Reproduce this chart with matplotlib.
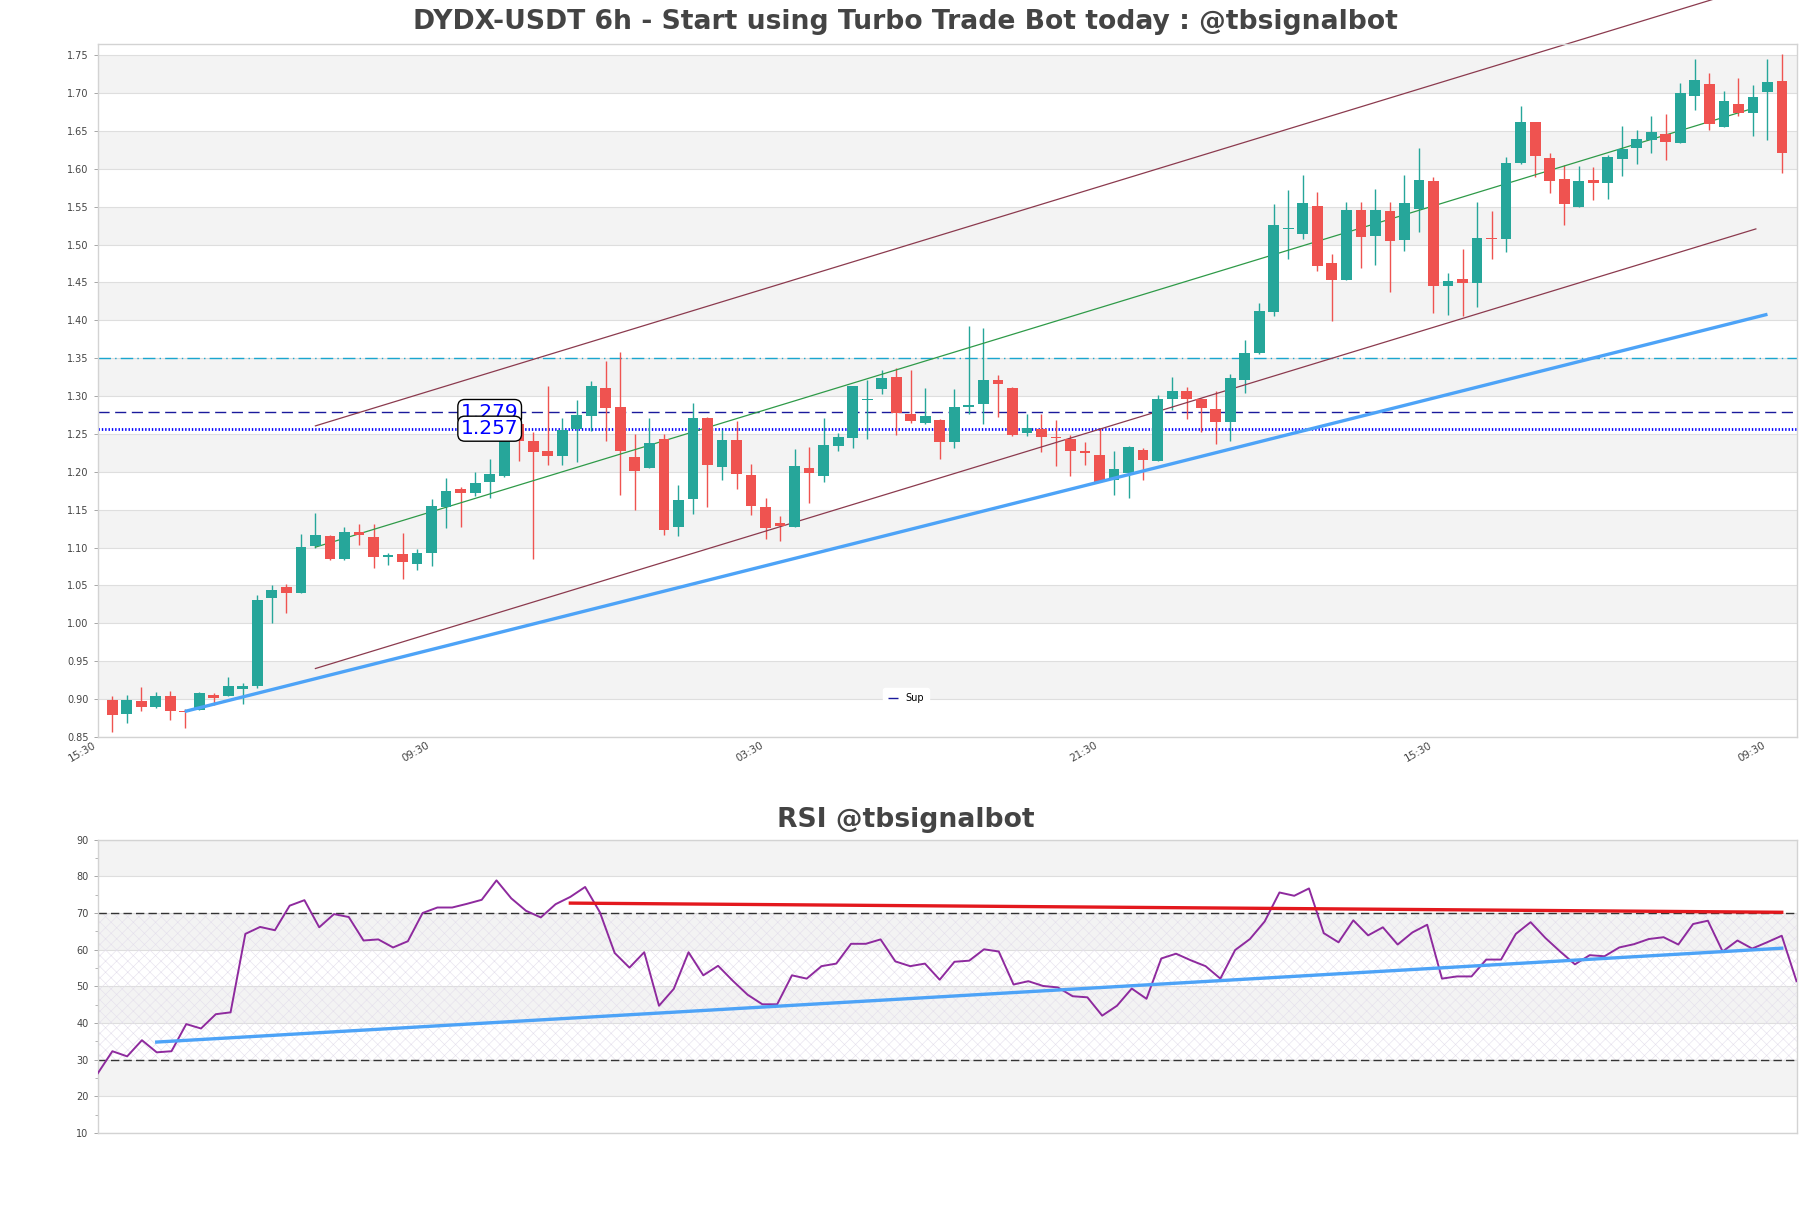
"""DYDX-USDT 6h candles with channel lines and RSI panel."""

import matplotlib

matplotlib.use("Agg")
import matplotlib.pyplot as plt
import numpy as np

# ---- candle data (6h bars) ----
opens = [
    0.8985, 0.881, 0.898, 0.8896, 0.904, 0.884, 0.8855, 0.9055, 0.904, 0.914,
    0.917, 1.033, 1.0486, 1.040, 1.1018, 1.1154, 1.0846, 1.1207, 1.114, 1.0876,
    1.0917, 1.0787, 1.0923, 1.1538, 1.1774, 1.1727, 1.187, 1.195, 1.2637, 1.241,
    1.2276, 1.2212, 1.256, 1.2743, 1.311, 1.285, 1.220, 1.2046, 1.243, 1.1266,
    1.1644, 1.2708, 1.2058, 1.2424, 1.1963, 1.1538, 1.132, 1.1266, 1.2046, 1.194,
    1.2342, 1.2448, 1.2944, 1.3098, 1.3252, 1.2767, 1.2649, 1.269, 1.240, 1.2855,
    1.2892, 1.3216, 1.311, 1.2519, 1.2566, 1.2466, 1.243, 1.2265, 1.2223, 1.1886,
    1.1987, 1.2294, 1.2147, 1.2962, 1.3062, 1.2962, 1.2826, 1.2655, 1.3216, 1.3565,
    1.4109, 1.5208, 1.5137, 1.551, 1.4753, 1.4528, 1.5462, 1.5119, 1.5438, 1.5064,
    1.547, 1.5838, 1.4453, 1.454, 1.4497, 1.5083, 1.5077, 1.6075, 1.6612, 1.6138,
    1.5863, 1.5495, 1.585, 1.5819, 1.6125, 1.6269, 1.6387, 1.6462, 1.6337, 1.6955,
    1.7124, 1.6556, 1.6855, 1.6743, 1.701, 1.7161,
]
highs = [
    0.904, 0.906, 0.9156, 0.910, 0.911, 0.887, 0.909, 0.908, 0.9286, 0.921,
    1.038, 1.050, 1.0515, 1.1177, 1.146, 1.116, 1.127, 1.1307, 1.1307, 1.0923,
    1.1195, 1.0988, 1.1644, 1.192, 1.180, 1.200, 1.2176, 1.259, 1.2655, 1.252,
    1.3128, 1.2708, 1.2944, 1.3198, 1.3464, 1.358, 1.250, 1.2708, 1.250, 1.1833,
    1.2903, 1.272, 1.2548, 1.2667, 1.2105, 1.1656, 1.142, 1.2306, 1.2324, 1.2708,
    1.2519, 1.3128, 1.3216, 1.3346, 1.3376, 1.3346, 1.311, 1.270, 1.3092, 1.392,
    1.3896, 1.3275, 1.3122, 1.2767, 1.2767, 1.2678, 1.2483, 1.240, 1.2578, 1.227,
    1.2342, 1.2318, 1.301, 1.3252, 1.3122, 1.297, 1.3062, 1.3287, 1.3742, 1.4233,
    1.5533, 1.5722, 1.5917, 1.5692, 1.4871, 1.5562, 1.5568, 1.574, 1.5568, 1.592,
    1.6275, 1.5888, 1.4628, 1.494, 1.5564, 1.5439, 1.615, 1.683, 1.662, 1.6213,
    1.605, 1.6044, 1.6019, 1.6188, 1.6562, 1.6512, 1.670, 1.673, 1.7136, 1.7454,
    1.7267, 1.703, 1.7199, 1.7105, 1.7448, 1.751,
]
lows = [
    0.857, 0.869, 0.884, 0.888, 0.872, 0.862, 0.885, 0.8925, 0.904, 0.893,
    0.915, 1.000, 1.0137, 1.040, 1.100, 1.084, 1.0834, 1.103, 1.0734, 1.0775,
    1.058, 1.0699, 1.0758, 1.126, 1.1266, 1.168, 1.166, 1.193, 1.2146, 1.085,
    1.2093, 1.2093, 1.213, 1.2536, 1.2412, 1.169, 1.1496, 1.2046, 1.117, 1.1148,
    1.1443, 1.153, 1.1886, 1.1768, 1.1425, 1.1118, 1.1089, 1.1266, 1.159, 1.187,
    1.228, 1.2312, 1.243, 1.3033, 1.2483, 1.265, 1.2637, 1.2176, 1.2312, 1.2767,
    1.2637, 1.2726, 1.2472, 1.2472, 1.2265, 1.2076, 1.1946, 1.2087, 1.186, 1.1691,
    1.165, 1.1886, 1.2147, 1.2814, 1.2696, 1.253, 1.2371, 1.2412, 1.3039, 1.3553,
    1.4055, 1.4806, 1.5072, 1.4658, 1.3996, 1.4528, 1.4694, 1.4735, 1.4368, 1.492,
    1.517, 1.4097, 1.4066, 1.4054, 1.4178, 1.4815, 1.4908, 1.6063, 1.5888, 1.5676,
    1.5264, 1.5495, 1.5595, 1.5607, 1.5907, 1.6063, 1.6207, 1.6113, 1.6337, 1.678,
    1.6512, 1.6556, 1.670, 1.6437, 1.6387, 1.595,
]
closes = [
    0.8784, 0.899, 0.890, 0.904, 0.884, 0.883, 0.9085, 0.902, 0.917, 0.917,
    1.031, 1.044, 1.040, 1.1006, 1.1165, 1.0846, 1.120, 1.117, 1.0876, 1.090,
    1.0805, 1.0923, 1.155, 1.175, 1.1727, 1.185, 1.1975, 1.252, 1.241, 1.2259,
    1.2212, 1.2554, 1.2755, 1.314, 1.2838, 1.227, 1.2005, 1.2383, 1.1236, 1.163,
    1.2708, 1.2087, 1.2424, 1.1975, 1.1544, 1.1254, 1.128, 1.2082, 1.1987, 1.2353,
    1.246, 1.3128, 1.2955, 1.324, 1.2773, 1.2667, 1.2738, 1.240, 1.2862, 1.2885,
    1.321, 1.3157, 1.249, 1.2578, 1.2454, 1.2448, 1.227, 1.2255, 1.1869, 1.2034,
    1.233, 1.2152, 1.2956, 1.3068, 1.2956, 1.2838, 1.2655, 1.324, 1.357, 1.412,
    1.5255, 1.5215, 1.555, 1.4723, 1.4528, 1.5462, 1.5101, 1.5456, 1.5054, 1.5551,
    1.585, 1.4459, 1.4515, 1.4497, 1.5083, 1.5077, 1.6075, 1.6624, 1.6175, 1.5844,
    1.5533, 1.5844, 1.5813, 1.615, 1.6262, 1.640, 1.648, 1.635, 1.700, 1.7174,
    1.6587, 1.6899, 1.6743, 1.695, 1.7149, 1.6206,
]

rsi = [
    26.2, 32.3, 30.9, 35.3, 32.0, 32.3, 39.7, 38.5, 42.4, 42.9,
    64.3, 66.2, 65.3, 72.0, 73.5, 66.1, 69.7, 68.9, 62.5, 62.8,
    60.6, 62.3, 70.0, 71.5, 71.5, 72.5, 73.6, 78.9, 74.0, 70.6,
    68.8, 72.4, 74.4, 77.1, 70.2, 59.1, 55.1, 59.3, 44.7, 49.3,
    59.3, 53.0, 55.6, 51.5, 47.7, 45.1, 45.1, 53.0, 52.1, 55.5,
    56.2, 61.6, 61.6, 62.8, 56.8, 55.5, 56.2, 51.8, 56.7, 57.0,
    60.1, 59.5, 50.5, 51.4, 50.1, 49.7, 47.3, 47.0, 42.0, 44.7,
    49.4, 46.6, 57.6, 58.9, 57.1, 55.5, 52.1, 59.9, 62.9, 67.7,
    75.6, 74.7, 76.7, 64.5, 62.0, 68.0, 63.9, 66.1, 61.4, 64.7,
    66.8, 52.1, 52.7, 52.7, 57.3, 57.3, 64.3, 67.5, 63.2, 59.5,
    56.0, 58.5, 58.2, 60.6, 61.5, 62.9, 63.4, 61.4, 67.0, 67.9,
    59.5, 62.5, 60.3, 62.0, 63.8, 51.4,
]

# time labels every 23 bars, first one at bar -1
tick_bars = [-1, 22, 45, 68, 91, 114]
tick_labels = ["15:30", "09:30", "03:30", "21:30", "15:30", "09:30"]

# drawn lines: (bar, price) end points
upper_channel = [(14, 1.2607), (113.2, 1.841)]
mid_channel = [(14, 1.1006), (113.2, 1.681)]
lower_channel = [(14, 0.9404), (113.2, 1.5207)]
support_trend = [(5, 0.8837), (114, 1.408)]
level_resist = 1.35
level_sup = 1.279
level_sup2 = 1.257

rsi_support = [(4, 34.8), (114, 60.4)]
rsi_resist = [(32, 72.7), (114, 70.2)]

UP = "#26a69a"
DOWN = "#ef5350"
BAND = "#f3f3f3"
GRID = "#dedede"
TXT = "#444444"


def style_axis(ax):
    for s in ax.spines.values():
        s.set_color("#d3d3d3")
        s.set_linewidth(1.0)
    ax.tick_params(axis="y", labelsize=7, colors=TXT, length=3, width=0.6)
    ax.tick_params(axis="y", which="minor", length=2, width=0.5, colors="#999999")
    ax.tick_params(axis="y", which="major", color="#999999")


def main():
    plt.rcParams["font.family"] = "DejaVu Sans"
    plt.rcParams["hatch.linewidth"] = 0.4

    fig = plt.figure(figsize=(18.11, 12.08), dpi=100)
    ax = fig.add_axes([0.0539, 0.3899, 0.9381, 0.5738])
    ax_rsi = fig.add_axes([0.0539, 0.0621, 0.9381, 0.2428])

    o = np.array(opens)
    h = np.array(highs)
    l = np.array(lows)
    c = np.array(closes)
    x = np.arange(len(o))
    colors = np.where(c >= o, UP, DOWN)

    # background bands and grid
    ylo, yhi = 0.85, 1.765
    ticks = np.round(np.arange(0.85, 1.751, 0.05), 2)
    for t in ticks[1:-1:2]:
        ax.axhspan(t, t + 0.05, color=BAND, zorder=0, lw=0)
    for t in ticks:
        ax.axhline(t, color=GRID, lw=0.8, zorder=0.5)

    # candles
    ax.vlines(x, l, h, colors=colors, lw=1.0, zorder=2)
    body_lo = np.minimum(o, c)
    body_h = np.maximum(np.abs(c - o), 0.0015)
    ax.bar(x, body_h, bottom=body_lo, width=0.74, color=colors, lw=0, zorder=3)

    # channel and trend lines
    for pts, col, lw in [
        (upper_channel, "#8b3a4e", 0.9),
        (lower_channel, "#8b3a4e", 0.9),
        (mid_channel, "#2e9a48", 0.9),
    ]:
        xs, ys = zip(*pts)
        ax.plot(xs, ys, color=col, lw=lw, zorder=2.5, clip_on=False)
    xs, ys = zip(*support_trend)
    ax.plot(xs, ys, color="#4da3f7", lw=2.4, zorder=4, solid_capstyle="butt")

    ax.axhline(level_resist, color="#1aa6cf", lw=1.0, dashes=(9, 3, 1, 3), zorder=1.5)
    ax.axhline(level_sup, color="#1a1a9c", lw=1.0, dashes=(8, 4), zorder=1.5, label="Sup")
    ax.axhline(level_sup2, color="#0000ff", lw=2.0, dashes=(0.5, 0.7), zorder=1.5)

    box = dict(boxstyle="round,pad=0.15,rounding_size=0.35", fc="white", ec="black", lw=1.0)
    ax.text(26, level_sup, f"{level_sup:.3f}", color="blue", fontsize=14.5,
            ha="center", va="center", bbox=box, zorder=6)
    ax.text(26, level_sup2, f"{level_sup2:.3f}", color="blue", fontsize=14.5,
            ha="center", va="center", bbox=box, zorder=6)

    ax.set_xlim(-1, len(o))
    ax.set_ylim(ylo, yhi)
    ax.set_yticks(ticks)
    ax.set_yticklabels([f"{t:.2f}" for t in ticks])
    ax.set_xticks(tick_bars)
    ax.set_xticklabels(tick_labels, rotation=30, ha="right", fontsize=7.5, color=TXT)
    ax.tick_params(axis="x", length=0, pad=2)
    style_axis(ax)

    leg = ax.legend(loc="lower center", bbox_to_anchor=(0.476, 0.035), fontsize=7,
                    handlelength=1.0, frameon=True, framealpha=1.0, borderpad=0.5)
    leg.get_frame().set_edgecolor("white")
    leg.get_frame().set_facecolor("white")

    fig.text(0.5, 0.9818, "DYDX-USDT 6h - Start using Turbo Trade Bot today : @tbsignalbot",
             ha="center", va="center", fontsize=19.2, fontweight="bold", color=TXT)

    # ---- RSI panel ----
    r = np.array(rsi)
    xr = np.arange(len(r))
    for lo in [20, 40, 60, 80]:
        ax_rsi.axhspan(lo, lo + 10, color=BAND, zorder=0, lw=0)
    for t in range(10, 91, 10):
        ax_rsi.axhline(t, color=GRID, lw=0.8, zorder=0.5)
    ax_rsi.fill_between([0, len(r) - 1], 30, 70, facecolor="none", edgecolor="#e4dfec",
                        hatch="xxx", lw=0, zorder=0.6)
    ax_rsi.axhline(70, color="#333333", lw=1.0, dashes=(6, 3), zorder=1)
    ax_rsi.axhline(30, color="#333333", lw=1.0, dashes=(6, 3), zorder=1)

    ax_rsi.plot(xr, r, color="#8e2a9e", lw=1.4, zorder=3)
    xs, ys = zip(*rsi_support)
    ax_rsi.plot(xs, ys, color="#4da3f7", lw=2.4, zorder=4)
    xs, ys = zip(*rsi_resist)
    ax_rsi.plot(xs, ys, color="#e3181d", lw=2.4, zorder=4)

    ax_rsi.set_xlim(0, len(r) - 1)
    ax_rsi.set_ylim(10, 90)
    ax_rsi.set_yticks(range(10, 91, 10))
    ax_rsi.set_yticks(range(15, 90, 10), minor=True)
    ax_rsi.set_xticks([])
    style_axis(ax_rsi)

    fig.text(0.5, 0.3212, "RSI @tbsignalbot", ha="center", va="center",
             fontsize=19.2, fontweight="bold", color=TXT)

    fig.savefig("out.png", dpi=100, facecolor="white")


if __name__ == "__main__":
    main()
